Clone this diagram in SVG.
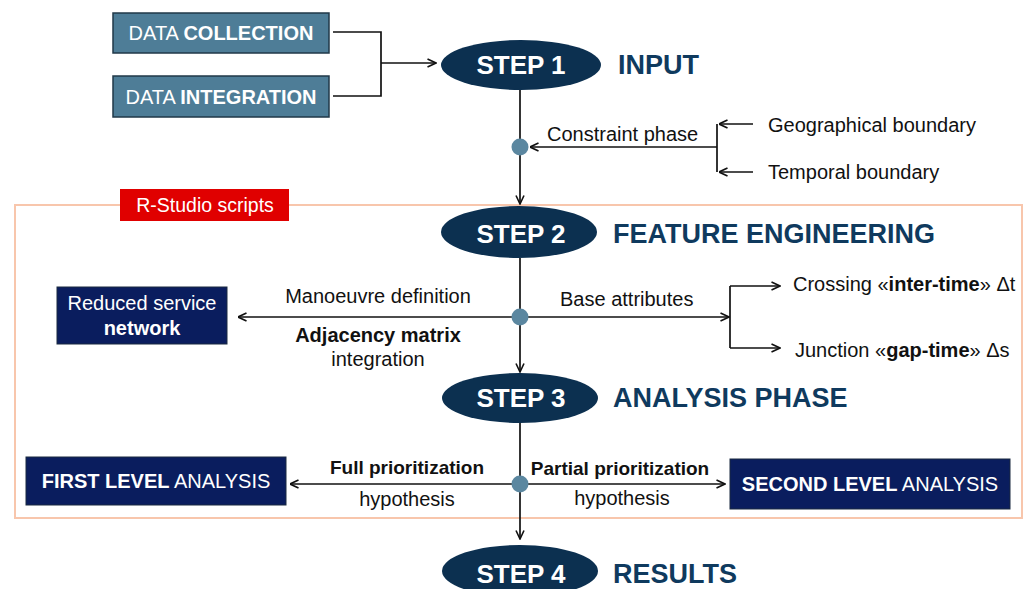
<svg xmlns="http://www.w3.org/2000/svg" width="1030" height="589" viewBox="0 0 1030 589">
<defs>
<marker id="arr" viewBox="0 0 10 10" refX="9.5" refY="5" markerWidth="10" markerHeight="10" markerUnits="userSpaceOnUse" orient="auto">
<path d="M1,1 L9.5,5 L1,9" fill="none" stroke="#111" stroke-width="1.6"/>
</marker>
</defs>
<style>
text{font-family:"Liberation Sans",Arial,sans-serif;}
.b{font-weight:bold;}
.lbl{font-size:20px;fill:#111;}
.step{fill:#0c3050;}
.steptxt{font-size:26px;font-weight:bold;fill:#fff;text-anchor:middle;}
.title{font-size:27px;font-weight:bold;fill:#0f3a5e;}
.data{fill:#4e7d97;stroke:#203848;stroke-width:1.5;}
.datatxt{font-size:20px;fill:#fff;text-anchor:middle;}
.navy{fill:#0a1d5e;stroke:#1a2a40;stroke-width:1;}
.wt{font-size:20px;fill:#fff;text-anchor:middle;}
.ln{fill:none;stroke:#111;stroke-width:1.7;}
.dot{fill:#5b87a0;}
</style>

<rect id="frame" x="15" y="205" width="1007" height="313" fill="none" stroke="#f8c6ac" stroke-width="2"/>
<g id="rstudio">
<rect x="120" y="189" width="169" height="32" fill="#e00000"/>
<text x="205" y="212" font-size="19.5" fill="#fff" text-anchor="middle">R-Studio scripts</text>
</g>

<g id="connectors">
<path class="ln" d="M333,32 H381 V96 H333"/>
<path class="ln" d="M381,63 H436" marker-end="url(#arr)"/>
<path class="ln" d="M520,90 V204" marker-end="url(#arr)"/>
<path class="ln" d="M717,147 H530" marker-end="url(#arr)"/>
<path class="ln" d="M717,124 V172"/>
<path class="ln" d="M753,124 H719" marker-end="url(#arr)"/>
<path class="ln" d="M753,172 H719" marker-end="url(#arr)"/>
<path class="ln" d="M520,258 V372" marker-end="url(#arr)"/>
<path class="ln" d="M520,317 H238" marker-end="url(#arr)"/>
<path class="ln" d="M520,317 H729" marker-end="url(#arr)"/>
<path class="ln" d="M730,286 V348"/>
<path class="ln" d="M730,286 H780" marker-end="url(#arr)"/>
<path class="ln" d="M730,348 H780" marker-end="url(#arr)"/>
<path class="ln" d="M520,423 V539" marker-end="url(#arr)"/>
<path class="ln" d="M520,484 H290" marker-end="url(#arr)"/>
<path class="ln" d="M520,484 H725" marker-end="url(#arr)"/>
<circle class="dot" cx="520" cy="147" r="8.5"/>
<circle class="dot" cx="520" cy="317" r="8.5"/>
<circle class="dot" cx="520" cy="484" r="8.5"/>
</g>

<g id="data-collection">
<rect class="data" x="113" y="13" width="216" height="40"/>
<text class="datatxt" x="221" y="40">DATA <tspan class="b">COLLECTION</tspan></text>
</g>
<g id="data-integration">
<rect class="data" x="113" y="76" width="216" height="41"/>
<text class="datatxt" x="221" y="104">DATA <tspan class="b">INTEGRATION</tspan></text>
</g>

<g id="step1">
<ellipse class="step" cx="521" cy="65" rx="80" ry="25"/>
<text class="steptxt" x="521" y="74">STEP 1</text>
<text class="title" x="618" y="74">INPUT</text>
</g>
<g id="constraint">
<text class="lbl" x="547" y="141">Constraint phase</text>
<text class="lbl" x="768" y="132">Geographical boundary</text>
<text class="lbl" x="768" y="179">Temporal boundary</text>
</g>

<g id="step2">
<ellipse class="step" cx="519" cy="232" rx="78" ry="26"/>
<text class="steptxt" x="521" y="243">STEP 2</text>
<text class="title" x="613" y="243">FEATURE ENGINEERING</text>
</g>
<g id="reduced-network">
<rect class="navy" x="57" y="287" width="170" height="57"/>
<text class="wt" x="142" y="310">Reduced service</text>
<text class="wt b" x="142" y="335">network</text>
</g>
<g id="step2-labels">
<text class="lbl" x="378" y="303" text-anchor="middle">Manoeuvre definition</text>
<text class="lbl b" x="378" y="342" text-anchor="middle">Adjacency matrix</text>
<text class="lbl" x="378" y="366" text-anchor="middle">integration</text>
<text class="lbl" x="560" y="306">Base attributes</text>
<text class="lbl" x="793" y="291">Crossing «<tspan class="b">inter-time</tspan>» Δt</text>
<text class="lbl" x="795" y="357">Junction «<tspan class="b">gap-time</tspan>» Δs</text>
</g>

<g id="step3">
<ellipse class="step" cx="520" cy="398" rx="78" ry="25"/>
<text class="steptxt" x="521" y="407">STEP 3</text>
<text class="title" x="613" y="407">ANALYSIS PHASE</text>
</g>
<g id="first-level">
<rect class="navy" x="26" y="457" width="260" height="48"/>
<text class="wt" x="156" y="488"><tspan class="b">FIRST LEVEL</tspan> ANALYSIS</text>
</g>
<g id="second-level">
<rect class="navy" x="730" y="459" width="280" height="50"/>
<text class="wt" x="870" y="491"><tspan class="b">SECOND LEVEL</tspan> ANALYSIS</text>
</g>
<g id="step3-labels">
<text class="lbl b" x="407" y="474" text-anchor="middle" font-size="19" style="font-size:19px">Full prioritization</text>
<text class="lbl" x="407" y="506" text-anchor="middle">hypothesis</text>
<text class="lbl b" x="620" y="475" text-anchor="middle" style="font-size:19px">Partial prioritization</text>
<text class="lbl" x="622" y="505" text-anchor="middle">hypothesis</text>
</g>

<g id="step4">
<ellipse class="step" cx="520" cy="571" rx="78" ry="26"/>
<text class="steptxt" x="521" y="583">STEP 4</text>
<text class="title" x="613" y="583">RESULTS</text>
</g>
</svg>
